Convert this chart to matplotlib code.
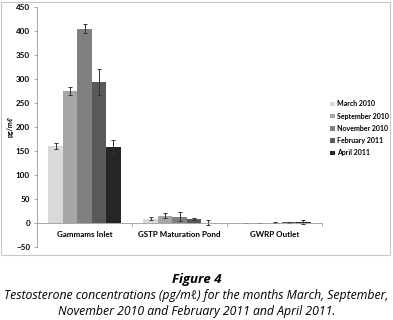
import numpy as np
import matplotlib.pyplot as plt
from matplotlib.patches import Rectangle

plt.rcParams['font.family'] = ['Lato', 'DejaVu Sans']

# sites and sampling months
sites = ['Gammams Inlet', 'GSTP Maturation Pond', 'GWRP Outlet']
months = ['March 2010', 'September 2010', 'November 2010', 'February 2011', 'April 2011']
colors = ['#d9d9d9', '#a6a6a6', '#808080', '#595959', '#262626']

# testosterone (pg/ml), rows = months, cols = sites
values = [
    [161, 9, 0.5],
    [275, 15, 0.5],
    [405, 13, 1],
    [293, 8, 2],
    [158, 1, 2],
]
errors = [
    [6, 3, 0.5],
    [8, 5, 0.5],
    [9, 9, 1],
    [27, 2, 1],
    [15, 5, 5],
]

fig = plt.figure(figsize=(3.93, 3.2), dpi=100)
fig.patches.append(Rectangle((1/393, 1-255/320), 389/393, 253/320, transform=fig.transFigure,
                             fill=False, edgecolor='#c8c8c8', linewidth=0.8))

ax = fig.add_axes([37/393, 1-247/320, 285/393, 240/320])
x = np.arange(len(sites))
w = 0.152
for i in range(len(months)):
    ax.bar(x + (i - 2) * w, values[i], w, color=colors[i], label=months[i],
           yerr=errors[i], error_kw=dict(ecolor='#333333', elinewidth=0.7, capsize=1.5, capthick=0.7))

ax.set_xlim(-0.5, 2.5)
ax.set_ylim(-50, 450)
ax.set_yticks(range(-50, 451, 50))
ax.tick_params(axis='y', labelsize=5.8, length=2, width=0.6, color='#999999', pad=3)
for lab in ax.get_yticklabels():
    lab.set_fontweight('bold')
ax.set_ylabel('pg/mℓ', fontsize=5, fontweight='bold', labelpad=2)

ax.spines['top'].set_visible(False)
ax.spines['right'].set_visible(False)
ax.spines['left'].set_color('#999999')
ax.spines['left'].set_linewidth(0.6)
ax.spines['bottom'].set_position(('data', 0))
ax.spines['bottom'].set_color('#999999')
ax.spines['bottom'].set_linewidth(0.6)
ax.set_xticks([0.5, 1.5, 2.5], minor=True)
ax.set_xticks(x)
ax.set_xticklabels(sites, fontsize=5.8, fontweight='bold')
ax.tick_params(axis='x', which='major', length=0, pad=6)
ax.tick_params(axis='x', which='minor', length=2, width=0.6, color='#999999', direction='out')

ax.legend(loc='upper left', bbox_to_anchor=(327/393, 1-97/320), bbox_transform=fig.transFigure,
          frameon=False, prop={'weight': 'bold', 'size': 5},
          handlelength=0.6, handleheight=0.6, handletextpad=0.4, labelspacing=0.75, borderpad=0)

fig.text(0.5, 1-279/320, 'Figure 4', ha='center', va='center', fontsize=9.5,
         fontweight='bold', style='italic', family='Open Sans')
fig.text(0.5, 1-296/320, 'Testosterone concentrations (pg/mℓ) for the months March, September,',
         ha='center', va='center', fontsize=8.8, style='italic', family='Open Sans')
fig.text(0.5, 1-311/320, 'November 2010 and February 2011 and April 2011.',
         ha='center', va='center', fontsize=8.8, style='italic', family='Open Sans')

fig.savefig('out.png', dpi=100)
